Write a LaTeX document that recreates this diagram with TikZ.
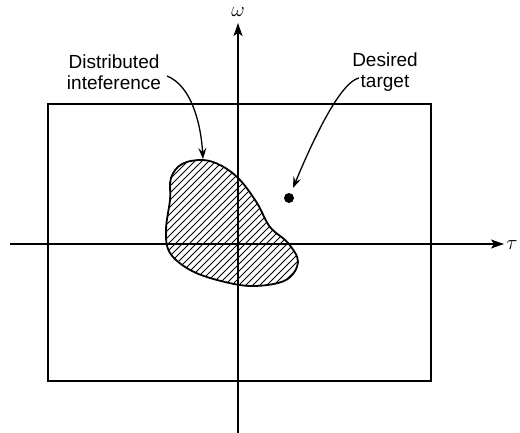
\documentclass[tikz,border=0pt]{standalone}
\usepackage{fontspec}
\setmainfont{Liberation Sans}
\usetikzlibrary{arrows.meta}

\begin{document}
\begin{tikzpicture}[x=1pt, y=-1pt,
  frame/.style={line width=1.8pt},
  axis/.style={line width=1.3pt, -{Stealth[length=13pt,width=9pt,inset=3pt]}},
  lbl/.style={align=center, font=\fontsize{19}{21}\selectfont, inner sep=0pt},
  sym/.style={font=\fontsize{22}{24}\selectfont, inner sep=1pt},
  pointer/.style={line width=1.3pt, -{Stealth[length=11pt,width=8pt,inset=4pt]}}]

\useasboundingbox (0,0) rectangle (520,433);

% frame
\draw[frame] (48,104) rectangle (431,381);

% axes
\node[sym] (omega) at (238,12) {$\omega$};
\node[sym] (tau) at (512,245) {$\tau$};
\coordinate (wlow) at (238,433);
\coordinate (whigh) at (238,23);
\coordinate (tlow) at (10,244);
\coordinate (thigh) at (504,244);
\draw[axis] (wlow) -- (whigh);
\draw[axis] (tlow) -- (thigh);

% interference region
\def\blob{plot[smooth cycle, tension=0.6] coordinates {
  (203,160) (222,166) (240,180) (257,203) (270,227) (288,243) (298,262)
  (286,280) (255,286) (225,282) (192,271) (170,253) (166,230) (170,200)
  (171,178) (182,164)}}
\begin{scope}
  \clip \blob;
  \foreach \c in {300,307,...,600}
    \draw[line width=0.9pt] (\c-140,140) -- (\c-300,300);
\end{scope}
\draw[frame] \blob;

% target
\node[circle, fill, inner sep=0pt, minimum size=10pt] (tgt) at (289,198) {};

% labels
\node[lbl] (interf) at (114,72) {Distributed\\inteference};
\node[lbl] (desired) at (385,72) {Desired\\target};

\coordinate (interftail) at (167,76);
\coordinate (interftip) at (203,159);
\coordinate (desiredtail) at (359,78);
\coordinate (desiredtip) at (293,188);
\draw[pointer] (interftail) .. controls (192,86) and (201,125) .. (interftip);
\draw[pointer] (desiredtail) .. controls (342,82) and (318,128) .. (desiredtip);
\end{tikzpicture}
\end{document}
